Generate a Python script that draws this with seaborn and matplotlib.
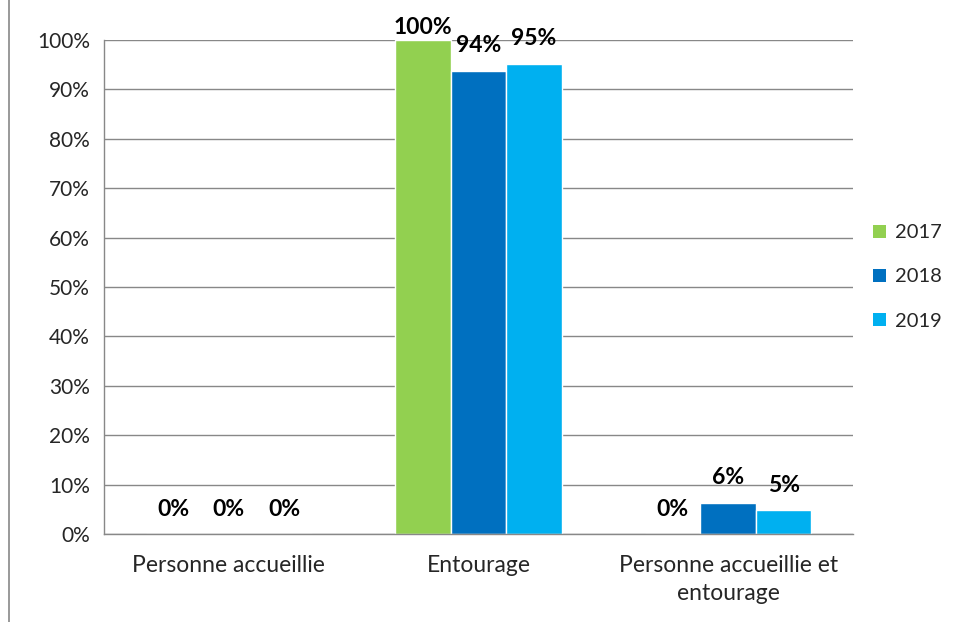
import matplotlib
matplotlib.use("Agg")
import matplotlib.pyplot as plt
import seaborn as sns
import pandas as pd
from matplotlib.lines import Line2D
from matplotlib.patches import Patch

categories = ["Personne accueillie", "Entourage", "Personne accueillie et\nentourage"]
years = ["2017", "2018", "2019"]
values_2017 = [0, 100, 0]
values_2018 = [0, 93.8, 6.3]
values_2019 = [0, 95.2, 4.8]
colors = ["#92D050", "#0070C0", "#00B0F0"]

rows = []
for y, vals in zip(years, [values_2017, values_2018, values_2019]):
    for c, v in zip(categories, vals):
        rows.append({"cat": c, "year": y, "val": v})
df = pd.DataFrame(rows)

sns.set_style("white")
plt.rcParams["font.family"] = ["Lato", "DejaVu Sans"]

fig = plt.figure(figsize=(9.75, 6.22), dpi=100)
ax = fig.add_axes([104/975, 1-534/622, (853-104)/975, (534-40)/622])

sns.barplot(data=df, x="cat", y="val", hue="year", palette=colors, width=0.667,
            ax=ax, saturation=1, legend=False, errorbar=None)

ax.set_ylim(0, 100)
ax.set_xlim(-0.5, 2.5)

# label offset of ~25 px above the bar top, kept inside the chart frame
px_per_unit = (534 - 40) / 100.0
off = 25 / px_per_unit
ymax_label = (534 - 28) / px_per_unit
for cont in ax.containers:
    for bar in cont:
        h = bar.get_height()
        ax.text(bar.get_x() + bar.get_width()/2, min(h + off, ymax_label), f"{round(h):d}%",
                ha="center", va="center", fontsize=16.5, fontweight="bold", color="#000000",
                clip_on=False)

ax.set_yticks(range(0, 101, 10))
ax.set_yticklabels([f"{t}%" for t in range(0, 101, 10)], fontsize=15)
ax.set_xticks([0, 1, 2])
ax.set_xticklabels(categories, fontsize=16.5, linespacing=1.45)
ax.set_xticks([-0.5, 0.5, 1.5, 2.5], minor=True)
ax.tick_params(axis="x", which="major", length=0, pad=15)
ax.tick_params(axis="x", which="minor", length=6, color="#888888", width=1, direction="out")
ax.tick_params(axis="y", length=5, color="#888888", width=1, direction="out", pad=5)
ax.set_xlabel("")
ax.set_ylabel("")
ax.grid(axis="y", color="#888888", linewidth=1)
ax.set_axisbelow(True)
for s in ["top", "right"]:
    ax.spines[s].set_visible(False)
for s in ["left", "bottom"]:
    ax.spines[s].set_color("#888888")
    ax.spines[s].set_linewidth(1)

handles = [Patch(facecolor=c, edgecolor="none") for c in colors]
fig.legend(handles, years, loc="center left", bbox_to_anchor=(0.877, 1-277/622),
           frameon=False, fontsize=14.5, handlelength=0.65, handleheight=0.65,
           handletextpad=0.45, labelspacing=1.35)

fig.add_artist(Line2D([8.5/975, 8.5/975], [0, 1], transform=fig.transFigure,
                      color="#888888", linewidth=1.2))

fig.savefig("out.png", dpi=100)
